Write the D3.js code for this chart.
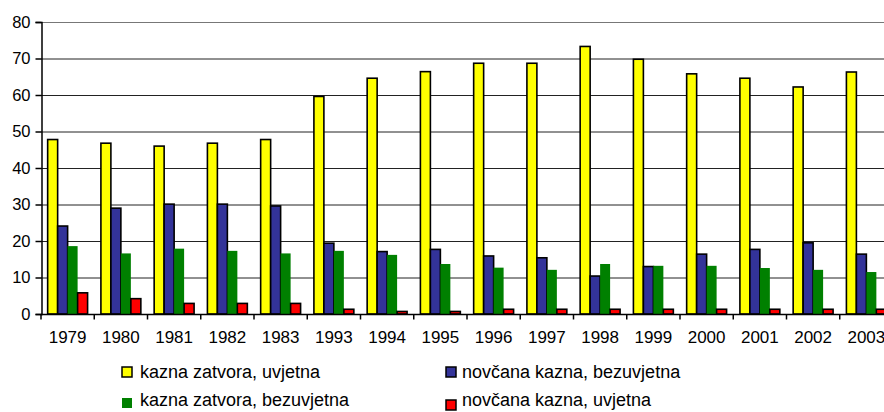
<!DOCTYPE html>
<html><head><meta charset="utf-8">
<script src="https://cdn.jsdelivr.net/npm/d3@7"></script>
<style>body{margin:0;background:#fff}svg{display:block}text{font-family:"Liberation Sans",Arial,sans-serif}</style>
</head><body><svg id="c" width="884" height="412"></svg>
<script>
const years = ["1979","1980","1981","1982","1983","1993","1994","1995","1996","1997","1998","1999","2000","2001","2002","2003"];
const zatvorUvjetna    = [47.8,46.8,46.0,46.8,47.8,59.6,64.6,66.4,68.7,68.7,73.3,69.8,65.8,64.6,62.2,66.3];
const novcanaBezuvjetna= [24.1,29.0,30.1,30.1,29.6,19.4,17.1,17.7,15.9,15.4,10.4,13.0,16.4,17.7,19.5,16.4];
const zatvorBezuvjetna = [18.6,16.6,17.9,17.3,16.6,17.3,16.2,13.7,12.7,12.1,13.7,13.2,13.2,12.6,12.1,11.5];
const novcanaUvjetna   = [5.8,4.2,2.9,2.9,2.9,1.3,0.7,0.7,1.3,1.3,1.3,1.3,1.3,1.3,1.3,1.3];
const yTicks = [0,10,20,30,40,50,60,70,80];
const seriesNames = ["kazna zatvora, uvjetna","novčana kazna, bezuvjetna","kazna zatvora, bezuvjetna","novčana kazna, uvjetna"];
const seriesColors = ["#ffff00","#333399","#008000","#ff0000"];
const seriesStroke = [true,true,false,true];
const seriesData = [zatvorUvjetna,novcanaBezuvjetna,zatvorBezuvjetna,novcanaUvjetna];

const svg = d3.select("#c");
const x0 = 41, stepW = 53.25;
const x = d3.scaleBand().domain(years).range([x0, x0 + stepW*years.length]).paddingInner(0).paddingOuter(0);
const y = d3.scaleLinear().domain([0,80]).range([314,22]);
const xs = d3.scaleBand().domain(d3.range(4)).range([x.bandwidth()*0.125, x.bandwidth()*0.875]);

// gridlines
svg.append("g").selectAll("line").data(yTicks.filter(t=>t>0)).join("line")
  .attr("x1", x0).attr("x2", 884).attr("y1", d=>y(d)+0.5).attr("y2", d=>y(d)+0.5)
  .attr("stroke", d=> d===80 ? "#777" : "#222").attr("stroke-width", 1);

// bars
seriesData.forEach((vals, si) => {
  svg.append("g").selectAll("rect").data(vals).join("rect")
    .attr("x", (d,i)=> x(years[i]) + xs(si))
    .attr("y", d=> y(d))
    .attr("width", xs.bandwidth())
    .attr("height", d=> y(0)-y(d))
    .attr("fill", seriesColors[si])
    .attr("stroke", seriesStroke[si] ? "#000" : "none")
    .attr("stroke-width", 1.6);
});

// y axis
const ya = svg.append("g").attr("transform", `translate(${x0+0.5},0)`)
  .call(d3.axisLeft(y).tickValues(yTicks).tickSize(6).tickPadding(5));
ya.attr("font-family", null);
ya.select(".domain").attr("stroke","#000").attr("stroke-width",1.5);
ya.selectAll(".tick line").attr("stroke","#000").attr("stroke-width",1.5);
ya.selectAll("text").attr("font-size","16.5px").attr("fill","#000");

// x axis
const xa = svg.append("g").attr("transform", `translate(0,${y(0)+0.5})`);
xa.append("line").attr("x1",x0).attr("x2",884).attr("stroke","#000").attr("stroke-width",1.5);
xa.selectAll(".tk").data(years.concat(["end"])).join("line")
  .attr("x1",(d,i)=> x0 + i*stepW).attr("x2",(d,i)=> x0 + i*stepW)
  .attr("y1",0).attr("y2",5).attr("stroke","#000").attr("stroke-width",1.5);
xa.selectAll("text").data(years).join("text")
  .attr("x", d=> x(d)+x.bandwidth()/2).attr("y", 28)
  .attr("text-anchor","middle").attr("font-size","17px").attr("fill","#000").text(d=>d);

// legend
const legPos = [[122,367,378],[446,367,378],[122,398,406],[446,400,406]];
const legX = [140, 462];
seriesNames.forEach((n,i)=>{
  const p = legPos[i];
  svg.append("rect").attr("x",p[0]).attr("y",p[1]).attr("width",10).attr("height",10)
    .attr("fill",seriesColors[i]).attr("stroke", seriesStroke[i] ? "#000":"none").attr("stroke-width",1.5);
  svg.append("text").attr("x", i%2===0 ? legX[0] : legX[1]).attr("y",p[2])
    .attr("font-size","18px").attr("fill","#000").text(n);
});
</script></body></html>
